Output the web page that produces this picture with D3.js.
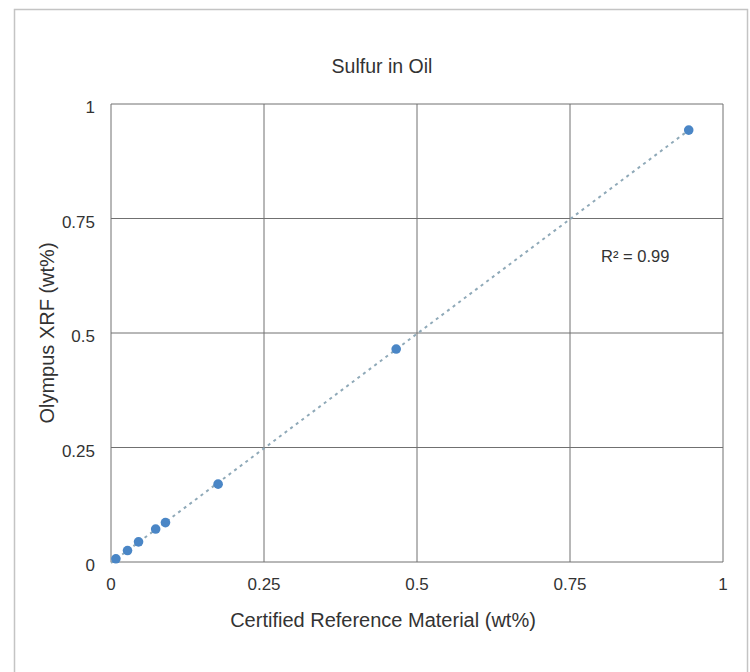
<!DOCTYPE html>
<html>
<head>
<meta charset="utf-8">
<script src="https://cdn.jsdelivr.net/npm/d3@7"></script>
<style>
  body { margin: 0; background: #fff; }
  text { font-family: "Liberation Sans", Arial, sans-serif; fill: #333; }
</style>
</head>
<body>
<div id="chart"></div>
<script>
// data
const certified = [0.008, 0.027, 0.045, 0.073, 0.089, 0.175, 0.466, 0.944]
const measured  = [0.007, 0.025, 0.044, 0.072, 0.086, 0.170, 0.465, 0.943]
const ticks = [0, 0.25, 0.5, 0.75, 1]
const tickLabels = ["0", "0.25", "0.5", "0.75", "1"]
const rSquared = "0.99"

const width = 750
const height = 672
const margin = {top: 104, right: 27, bottom: 110, left: 111}

const svg = d3.select("#chart")
  .append("svg")
    .attr("width", width)
    .attr("height", height)

// outer frame
svg.append("rect")
  .attr("x", 14.5).attr("y", 9.5)
  .attr("width", 733).attr("height", 700)
  .attr("fill", "none")
  .attr("stroke", "#c4c4c4")
  .attr("stroke-width", 1.5)

const x = d3.scaleLinear().domain([0, 1]).range([margin.left, width - margin.right])
const y = d3.scaleLinear().domain([0, 1]).range([height - margin.bottom, margin.top])

// grid
const grid = svg.append("g").attr("stroke", "#707070").attr("stroke-width", 1)
grid.selectAll(".vx").data(ticks).join("line")
  .attr("x1", d => x(d)).attr("x2", d => x(d))
  .attr("y1", y(0)).attr("y2", y(1))
grid.selectAll(".hy").data(ticks).join("line")
  .attr("y1", d => y(d)).attr("y2", d => y(d))
  .attr("x1", x(0)).attr("x2", x(1))

// tick labels
svg.append("g").selectAll("text").data(ticks).join("text")
  .attr("x", d => x(d))
  .attr("y", y(0) + 28)
  .attr("text-anchor", "middle")
  .attr("font-size", 17)
  .text((d, i) => tickLabels[i])

svg.append("g").selectAll("text").data(ticks).join("text")
  .attr("x", x(0) - 16)
  .attr("y", d => y(d) + 9)
  .attr("text-anchor", "end")
  .attr("font-size", 17)
  .text((d, i) => tickLabels[i])

// linear fit through the points
const mx = d3.mean(certified), my = d3.mean(measured)
const slope = d3.sum(certified, (v, i) => (v - mx) * (measured[i] - my)) / d3.sum(certified, v => (v - mx) ** 2)
const icpt = my - slope * mx
const x0 = 0, x1 = d3.max(certified)

svg.append("line")
  .attr("x1", x(x0)).attr("y1", y(slope * x0 + icpt))
  .attr("x2", x(x1)).attr("y2", y(slope * x1 + icpt))
  .attr("stroke", "#8fa9b8")
  .attr("stroke-width", 2)
  .attr("stroke-dasharray", "3,4")

// points
svg.append("g").selectAll("circle").data(certified).join("circle")
  .attr("cx", d => x(d))
  .attr("cy", (d, i) => y(measured[i]))
  .attr("r", 4.8)
  .attr("fill", "#4a86c6")

// titles
svg.append("text")
  .attr("x", 382).attr("y", 73)
  .attr("text-anchor", "middle")
  .attr("font-size", 19.5)
  .text("Sulfur in Oil")

svg.append("text")
  .attr("x", 383).attr("y", 627)
  .attr("text-anchor", "middle")
  .attr("font-size", 20)
  .text("Certified Reference Material (wt%)")

svg.append("text")
  .attr("transform", `translate(54, ${(y(0) + y(1)) / 2}) rotate(-90)`)
  .attr("text-anchor", "middle")
  .attr("font-size", 20)
  .text("Olympus XRF (wt%)")

svg.append("text")
  .attr("x", 601).attr("y", 262)
  .attr("font-size", 16.5)
  .text(`R² = ${rSquared}`)
</script>
</body>
</html>
